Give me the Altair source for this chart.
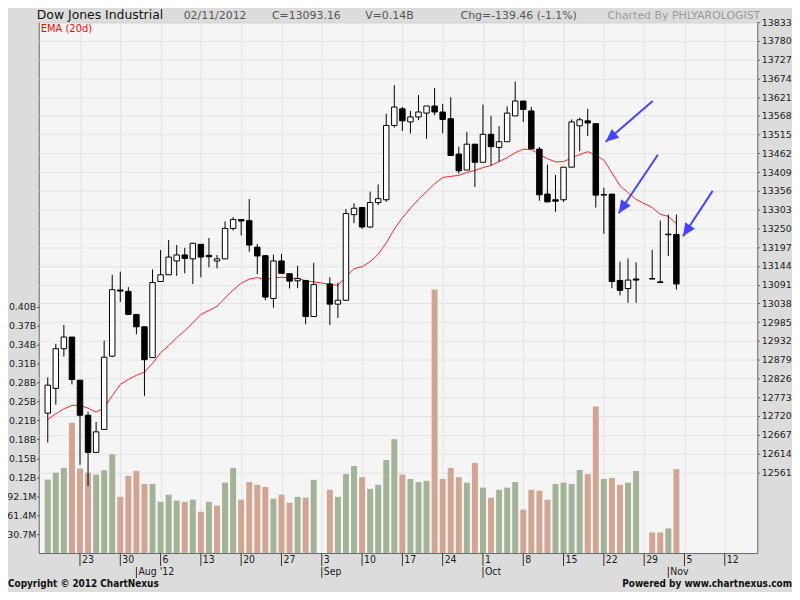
import json
import altair as alt
import numpy as np
import pandas as pd

# ---------------- data ----------------
dates = [
    "2012-07-17", "2012-07-18", "2012-07-19", "2012-07-20", "2012-07-23", "2012-07-24",
    "2012-07-25", "2012-07-26", "2012-07-27", "2012-07-30", "2012-07-31",
    "2012-08-01", "2012-08-02", "2012-08-03", "2012-08-06", "2012-08-07", "2012-08-08",
    "2012-08-09", "2012-08-10", "2012-08-13", "2012-08-14", "2012-08-15", "2012-08-16",
    "2012-08-17", "2012-08-20", "2012-08-21", "2012-08-22", "2012-08-23", "2012-08-24",
    "2012-08-27", "2012-08-28", "2012-08-29", "2012-08-30", "2012-08-31",
    "2012-09-04", "2012-09-05", "2012-09-06", "2012-09-07", "2012-09-10", "2012-09-11",
    "2012-09-12", "2012-09-13", "2012-09-14", "2012-09-17", "2012-09-18", "2012-09-19",
    "2012-09-20", "2012-09-21", "2012-09-24", "2012-09-25", "2012-09-26", "2012-09-27",
    "2012-09-28",
    "2012-10-01", "2012-10-02", "2012-10-03", "2012-10-04", "2012-10-05", "2012-10-08",
    "2012-10-09", "2012-10-10", "2012-10-11", "2012-10-12", "2012-10-15", "2012-10-16",
    "2012-10-17", "2012-10-18", "2012-10-19", "2012-10-22", "2012-10-23", "2012-10-24",
    "2012-10-25", "2012-10-26", "2012-10-30", "2012-10-31",
    "2012-11-01", "2012-11-02",
]
opens = [
    12728, 12798, 12910, 12943, 12821, 12722, 12617, 12682, 12889, 13076, 13072,
    13007, 12972, 12885, 13100, 13119, 13158, 13175, 13164, 13205, 13174, 13158, 13164,
    13250, 13275, 13272, 13197, 13173, 13052, 13158, 13122, 13102, 13103, 13001,
    13093, 13036, 13047, 13289, 13309, 13254, 13323, 13331, 13541, 13588, 13551, 13565,
    13576, 13596, 13579, 13560, 13460, 13415, 13488,
    13437, 13516, 13479, 13495, 13568, 13610, 13582, 13474, 13347, 13331, 13331, 13423,
    13540, 13554, 13546, 13344, 13347, 13103, 13080, 13107, 13108, 13099,
    13232, 13233,
]
highs = [
    12829, 12924, 12977, 12943, 12821, 12732, 12703, 12933, 13119, 13128, 13084,
    13008, 12972, 13134, 13189, 13217, 13203, 13195, 13208, 13205, 13223, 13175, 13270,
    13282, 13275, 13333, 13206, 13173, 13176, 13178, 13122, 13144, 13103, 13153,
    13112, 13097, 13305, 13321, 13309, 13354, 13374, 13574, 13655, 13593, 13582, 13627,
    13596, 13647, 13602, 13621, 13481, 13523, 13488,
    13600, 13568, 13539, 13595, 13665, 13610, 13593, 13480, 13430, 13401, 13423, 13558,
    13563, 13588, 13546, 13365, 13347, 13156, 13165, 13154, 13189, 13272,
    13289, 13289,
]
lows = [
    12645, 12752, 12888, 12809, 12582, 12522, 12617, 12682, 12886, 13042, 13007,
    12951, 12777, 12885, 13100, 13119, 13116, 13123, 13093, 13112, 13140, 13137, 13164,
    13244, 13230, 13184, 13121, 13047, 13026, 13123, 13080, 13081, 12979, 13001,
    12977, 12997, 13045, 13265, 13249, 13252, 13316, 13325, 13535, 13525, 13518, 13556,
    13503, 13570, 13519, 13456, 13405, 13415, 13367,
    13437, 13428, 13438, 13495, 13568, 13551, 13475, 13328, 13325, 13297, 13325, 13423,
    13468, 13511, 13309, 13235, 13081, 13061, 13040, 13040, 13107, 13097,
    13172, 13077,
]
closes = [
    12807, 12910, 12943, 12823, 12722, 12617, 12675, 12886, 13077, 13073, 13007,
    12972, 12879, 13097, 13119, 13169, 13175, 13165, 13208, 13169, 13170, 13164, 13250,
    13275, 13271, 13203, 13172, 13056, 13158, 13123, 13101, 13108, 13001, 13091,
    13036, 13047, 13292, 13307, 13254, 13323, 13334, 13541, 13593, 13554, 13565, 13579,
    13596, 13579, 13558, 13456, 13413, 13488, 13437,
    13516, 13481, 13495, 13576, 13610, 13586, 13475, 13345, 13325, 13327, 13423, 13551,
    13557, 13548, 13344, 13346, 13100, 13075, 13104, 13104, 13107, 13097,
    13234, 13093,
]
# volume in millions of shares
volumes_m = [
    119, 130, 138, 211, 137, 130, 127, 134, 160, 91,
    125, 133, 112, 112, 83, 94.5, 85, 83, 86.5, 67,
    83, 77, 114, 138, 86.5, 115, 110.6, 107, 88, 94.5,
    81.6, 91, 89.7, 118.6, 102.5, 91, 128, 141, 123, 104,
    110.6, 150.7, 184.5, 127, 120, 115, 117, 427, 120, 138,
    123, 114, 146, 106, 89.7, 102.5, 106, 115, 70.4, 102.5,
    101, 86.5, 112, 114, 112, 134.7, 128, 237.5, 120, 121.8,
    110.6, 114, 133, 33.4, 33.4, 39.9, 136,
]
# u = close above previous close (green bar), d = below (pink bar)
volume_dir = [
    "u", "u", "u", "d", "d", "d", "u", "u", "u", "d",
    "d", "d", "d", "u", "u", "u", "u", "d", "u", "d",
    "u", "d", "u", "u", "d", "d", "d", "d", "u", "d",
    "d", "u", "d", "u", "d", "u", "u", "u", "d", "u",
    "u", "u", "u", "d", "u", "u", "u", "d", "d", "d",
    "d", "u", "d", "u", "d", "u", "u", "u", "d", "d",
    "d", "d", "u", "u", "u", "u", "d", "d", "u", "d",
    "d", "u", "u", "d", "d", "u", "d",
]
ema20 = [
    12710, 12726, 12740, 12750, 12750, 12742, 12731, 12743, 12777, 12809, 12823,
    12835, 12844, 12869, 12899, 12919, 12941, 12961, 12983, 13007, 13018, 13030, 13053,
    13076, 13095, 13107, 13111, 13105, 13110, 13112, 13110, 13109, 13102, 13099,
    13092, 13089, 13114, 13136, 13142, 13156, 13177, 13209, 13248, 13280, 13307, 13332,
    13354, 13376, 13394, 13397, 13400, 13408, 13414,
    13422, 13428, 13439, 13450, 13464, 13474, 13473, 13459, 13447, 13438, 13439, 13449,
    13459, 13467, 13457, 13443, 13407, 13371, 13351, 13332, 13309, 13290,
    13284, 13263,
]

price_ticks = [13833, 13780, 13727, 13674, 13621, 13568, 13515, 13462, 13409, 13356,
               13303, 13250, 13197, 13144, 13091, 13038, 12985, 12932, 12879, 12826,
               12773, 12720, 12667, 12614, 12561]
volume_ticks = [30.7, 61.4, 92.1, 122.8, 153.5, 184.2, 214.9, 245.6, 276.3, 307.0,
                337.7, 368.4, 399.1]
volume_labels = ["30.7M", "61.4M", "92.1M", "0.12B", "0.15B", "0.18B", "0.21B",
                 "0.25B", "0.28B", "0.31B", "0.34B", "0.37B", "0.40B"]
week_dates = ["2012-07-23", "2012-07-30", "2012-08-06", "2012-08-13", "2012-08-20",
              "2012-08-27", "2012-09-03", "2012-09-10", "2012-09-17", "2012-09-24",
              "2012-10-01", "2012-10-08", "2012-10-15", "2012-10-22", "2012-10-29",
              "2012-11-05", "2012-11-12"]
week_labels = ["23", "30", "6", "13", "20", "27", "3", "10", "17", "24", "1", "8",
               "15", "22", "29", "5", "12"]
month_dates = ["2012-08-01", "2012-09-03", "2012-10-01", "2012-11-01"]
month_labels = ["Aug '12", "Sep", "Oct", "Nov"]

# annotation arrows (tail -> tip), in trading-day slot / price units
arrow_tail_slot = [71.06, 71.7, 78.5]
arrow_tail_price = [13610, 13458, 13356]
arrow_tip_slot = [65.22, 66.84, 74.81]
arrow_tip_price = [13495, 13293, 13228]
arrow_angle = [230, 214, 214]

# ---------------- helpers ----------------
ORIGIN = "2012-07-23"


def slot(d):
    return int(np.busday_count(ORIGIN, d))


df = pd.DataFrame({
    "i": [slot(d) for d in dates],
    "open": opens, "high": highs, "low": lows, "close": closes,
    "vol": volumes_m, "vd": volume_dir, "ema": ema20,
})
df["body"] = np.where(df["close"] > df["open"], "u", "d")

weeks = pd.DataFrame({"i": [slot(d) for d in week_dates], "label": week_labels})
months = pd.DataFrame({"i": [slot(d) for d in month_dates], "label": month_labels})
arrows = pd.DataFrame({"i": arrow_tail_slot, "p": arrow_tail_price,
                       "i2": arrow_tip_slot, "p2": arrow_tip_price, "ang": arrow_angle})

PLOT_W, PLOT_H = 724, 535
X_DOMAIN = [-4.5, 83.42]
PRICE_DOMAIN = [12332.5, 13833]
VOL_DOMAIN = [0, 860]
FONT = "DejaVu Sans"
NARROW = "DejaVu Sans Condensed, Liberation Sans"
GRID = "#e3e3e3"
GREEN = "#a4b398"
PINK = "#d0a693"
BLUE = "#4444ff"

x_axis = alt.Axis(values=[int(v) for v in weeks["i"]], grid=True, gridColor=GRID,
                  labels=False, ticks=False, domain=False, title=None)


def xq(field):
    return alt.X(f"{field}:Q", scale=alt.Scale(domain=X_DOMAIN, nice=False, zero=False),
                 axis=x_axis)


price_axis = alt.Axis(orient="right", values=price_ticks, format="d", grid=True,
                      gridColor=GRID, tickSize=2, tickColor="#444", domain=False,
                      title=None, labelFont=FONT, labelFontSize=9.5, labelColor="#1a1a1a",
                      labelPadding=2, labelOverlap=False, labelFlush=False)


def yp(field):
    return alt.Y(f"{field}:Q", scale=alt.Scale(domain=PRICE_DOMAIN, nice=False, zero=False),
                 axis=price_axis)


vol_label_expr = (f"{json.dumps(volume_labels)}[indexof({json.dumps(volume_ticks)}, datum.value)]")

vol = alt.Chart(df).mark_bar(size=6).encode(
    x=xq("i"),
    y=alt.Y("vol:Q", scale=alt.Scale(domain=VOL_DOMAIN, nice=False, zero=True),
            axis=alt.Axis(orient="left", values=volume_ticks, labelExpr=vol_label_expr,
                          grid=False, tickSize=2, tickColor="#444", domain=False,
                          title=None, labelFont=FONT, labelFontSize=9.5,
                          labelColor="#1a1a1a", labelPadding=1, labelOverlap=False,
                          labelFlush=False)),
    color=alt.Color("vd:N", scale=alt.Scale(domain=["u", "d"], range=[GREEN, PINK]),
                    legend=None),
)

ema_line = alt.Chart(df).mark_line(color="#ff2020", strokeWidth=1).encode(
    x=xq("i"), y=yp("ema"))

wicks = alt.Chart(df).mark_rule(color="black", strokeWidth=1).encode(
    x=xq("i"), y=yp("low"), y2="high:Q")

bodies = alt.Chart(df).mark_bar(size=5.5, stroke="black", strokeWidth=1).encode(
    x=xq("i"), y=yp("open"), y2="close:Q",
    fill=alt.Fill("body:N", scale=alt.Scale(domain=["u", "d"], range=["#ffffff", "#000000"]),
                  legend=None),
)

shafts = alt.Chart(arrows).mark_rule(color=BLUE, strokeWidth=2).encode(
    x=xq("i"), y=yp("p"), x2="i2:Q", y2="p2:Q")

heads = alt.Chart(arrows).mark_point(shape="M0,0L-0.45,1L0.45,1Z", filled=True, size=680,
                                     color=BLUE, opacity=1).encode(
    x=xq("i2"), y=yp("p2"), angle=alt.Angle("ang:Q", scale=None))

day_ticks = alt.Chart(weeks).mark_rule(color="#333", strokeWidth=1).encode(
    x=xq("i"), y=alt.value(PLOT_H), y2=alt.value(PLOT_H + 13))
day_text = alt.Chart(weeks).mark_text(align="left", baseline="alphabetic", dx=2,
                                      font=NARROW, fontSize=10.5, color="#1a1a1a").encode(
    x=xq("i"), y=alt.value(PLOT_H + 10), text="label:N")
month_ticks = alt.Chart(months).mark_rule(color="#333", strokeWidth=1).encode(
    x=xq("i"), y=alt.value(PLOT_H + 14), y2=alt.value(PLOT_H + 25))
month_text = alt.Chart(months).mark_text(align="left", baseline="alphabetic", dx=2,
                                         font=NARROW, fontSize=10.5, color="#1a1a1a").encode(
    x=xq("i"), y=alt.value(PLOT_H + 22), text="label:N")

price_layer = alt.layer(ema_line, wicks, bodies, shafts, heads,
                        day_ticks, day_text, month_ticks, month_text)

one = pd.DataFrame({"k": [0]})


def label(txt, x, y, size=11, color="#555555", weight="normal", align="left", font=FONT):
    return alt.Chart(one).mark_text(text=txt, align=align, baseline="alphabetic",
                                    fontSize=size, color=color, fontWeight=weight,
                                    font=font).encode(x=alt.value(x), y=alt.value(y))


texts = [
    label("Dow Jones Industrial", -2, -3, size=12.5, color="#111111"),
    label("02/11/2012", 146, -3, size=11),
    label("C=13093.16", 235, -3, size=11),
    label("V=0.14B", 329, -3, size=11),
    label("Chg=-139.46 (-1.1%)", 425, -3, size=11),
    label("Charted By PHLYAROLOGIST", 573, -3, size=11, color="#9a9a9a"),
    label("EMA (20d)", 2, 10, size=10, color="#ff0000"),
    label("Copyright \u00a9 2012 ChartNexus", -31, PLOT_H + 34, size=10,
          color="#111111", weight="bold", font=NARROW),
    label("Powered by www.chartnexus.com", 759, PLOT_H + 34, size=10,
          color="#111111", weight="bold", align="right", font=NARROW),
]

chart = alt.layer(vol, price_layer, *texts).resolve_scale(y="independent").properties(
    width=PLOT_W, height=PLOT_H,
    autosize=alt.AutoSizeParams(type="none"),
    padding={"left": 31, "top": 12, "right": 35, "bottom": 37},
    background="#dcdcdc",
).configure_view(fill="#f5f5f5", stroke="#5f6b6b", strokeWidth=1)

chart.save("out.html", embed_options={"renderer": "svg", "actions": False})
